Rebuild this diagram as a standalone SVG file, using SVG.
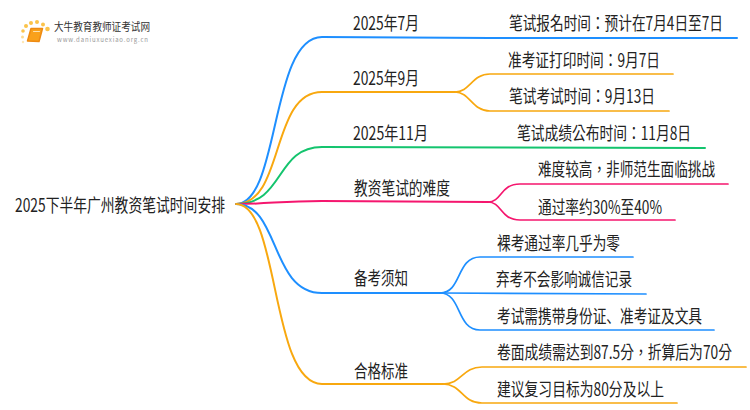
<svg xmlns="http://www.w3.org/2000/svg" width="750" height="410" viewBox="0 0 750 410">
<style>
text{font-family:"Noto Sans CJK SC","Noto Sans",sans-serif;font-size:18px;fill:#222}
text.p{font-family:"Noto Sans CJK TC","Noto Sans",sans-serif}
path{fill:none;stroke-linecap:round}
.m{stroke-width:2}
.l{stroke-width:1.7}
.b{stroke:#1e8fff}.o{stroke:#f8a80f}.g{stroke:#14c46e}.r{stroke:#f5166e}
.d{fill:#fbc34a}
</style>
<rect width="750" height="410" fill="#fff"/>
<g id="logo">
<circle class="d" cx="23" cy="42" r="1.200" opacity=".4"/><circle class="d" cx="22.500" cy="37" r="1.500" opacity=".6"/><circle class="d" cx="23" cy="31" r="1.800"/><circle class="d" cx="26" cy="26" r="2"/><circle class="d" cx="31" cy="23" r="2"/><circle class="d" cx="37" cy="22" r="2"/><circle class="d" cx="43" cy="24.500" r="2"/><circle class="d" cx="47.500" cy="29" r="2.300"/>
<path d="M31,28.500 L42.500,28.500 L39,41.500 L27.500,41 Z" style="fill:#f9a11b;stroke:#ee8a12;stroke-width:1.500;stroke-linejoin:round"/>
<path d="M33.500,31.500 L39.500,31.500" style="stroke:#fde3b0;stroke-width:1"/>
<text x="54" y="31" textLength="96" lengthAdjust="spacingAndGlyphs" style="font-size:11px;fill:#333">大牛教育教师证考试网</text>
<text x="57" y="41.500" textLength="91" lengthAdjust="spacing" style="font-size:6px;fill:#999">www.daniuxuexiao.org.cn</text>
</g>
<g id="connectors">
<path class="m b" d="M236,204 C280,204 270,37 322,37 L490,38 L737,38"/>
<path class="m o" d="M236,204 C285,204 270,92 322,92 L455,92"/>
<path class="l o" d="M455,92 C470,92 472,74 490,74 L673,74"/>
<path class="l o" d="M455,92 C470,92 472,111 490,111 L669,111"/>
<path class="m g" d="M236,204 C285,204 275,147 322,147 L705,148"/>
<path class="m r" d="M236,204 C270,204 280,201 322,201 L488,202"/>
<path class="l r" d="M488,202 C502,202 500,184 520,184 L728,184"/>
<path class="l r" d="M488,202 C502,202 500,220 520,220 L675,220"/>
<path class="m b" d="M236,204 C280,204 270,293 322,293 L440,293"/>
<path class="l b" d="M440,293 C462,293 456,257 480,257 L633,257"/>
<path class="l b" d="M440,293 L646,294"/>
<path class="l b" d="M440,293 C462,293 456,330 480,330 L714,330"/>
<path class="m o" d="M236,204 C280,204 270,384 322,384 L443,384"/>
<path class="l o" d="M443,384 C462,384 462,367 482,367 L746,367"/>
<path class="l o" d="M443,384 C462,384 462,403 482,403 L677,403"/>
</g>
<g id="root"><text x="15" y="212" textLength="210" lengthAdjust="spacingAndGlyphs">2025下半年广州教资笔试时间安排</text></g>
<g id="n1"><text x="353" y="30" textLength="66" lengthAdjust="spacingAndGlyphs">2025年7月</text></g>
<g id="n2"><text x="353" y="85" textLength="66" lengthAdjust="spacingAndGlyphs">2025年9月</text></g>
<g id="n3"><text x="353" y="140" textLength="75" lengthAdjust="spacingAndGlyphs">2025年11月</text></g>
<g id="n4"><text x="354" y="195" textLength="96" lengthAdjust="spacingAndGlyphs">教资笔试的难度</text></g>
<g id="n5"><text x="354" y="285" textLength="54" lengthAdjust="spacingAndGlyphs">备考须知</text></g>
<g id="n6"><text x="354" y="378" textLength="54" lengthAdjust="spacingAndGlyphs">合格标准</text></g>
<g id="n1a"><text class="p" transform="translate(509,30) scale(.75,1)" textLength="285.300" lengthAdjust="spacingAndGlyphs">笔试报名时间：预计在7月4日至7日</text></g>
<g id="n2a"><text class="p" x="508" y="67" textLength="152" lengthAdjust="spacingAndGlyphs">准考证打印时间：9月7日</text></g>
<g id="n2b"><text class="p" x="509" y="103" textLength="146" lengthAdjust="spacingAndGlyphs">笔试考试时间：9月13日</text></g>
<g id="n3a"><text class="p" x="517" y="140" textLength="174" lengthAdjust="spacingAndGlyphs">笔试成绩公布时间：11月8日</text></g>
<g id="n4a"><text class="p" transform="translate(538,176) scale(.75,1)" textLength="236" lengthAdjust="spacingAndGlyphs">难度较高，非师范生面临挑战</text></g>
<g id="n4b"><text x="538" y="214" textLength="124" lengthAdjust="spacingAndGlyphs">通过率约30%至40%</text></g>
<g id="n5a"><text x="497" y="250" textLength="123" lengthAdjust="spacingAndGlyphs">裸考通过率几乎为零</text></g>
<g id="n5b"><text x="496" y="286" textLength="136" lengthAdjust="spacingAndGlyphs">弃考不会影响诚信记录</text></g>
<g id="n5c"><text transform="translate(497,323) scale(.75,1)" textLength="273.300" lengthAdjust="spacingAndGlyphs">考试需携带身份证、准考证及文具</text></g>
<g id="n6a"><text class="p" transform="translate(497,359) scale(.75,1)" textLength="313.300" lengthAdjust="spacingAndGlyphs">卷面成绩需达到87.5分，折算后为70分</text></g>
<g id="n6b"><text x="497" y="396" textLength="167" lengthAdjust="spacingAndGlyphs">建议复习目标为80分及以上</text></g>
</svg>
